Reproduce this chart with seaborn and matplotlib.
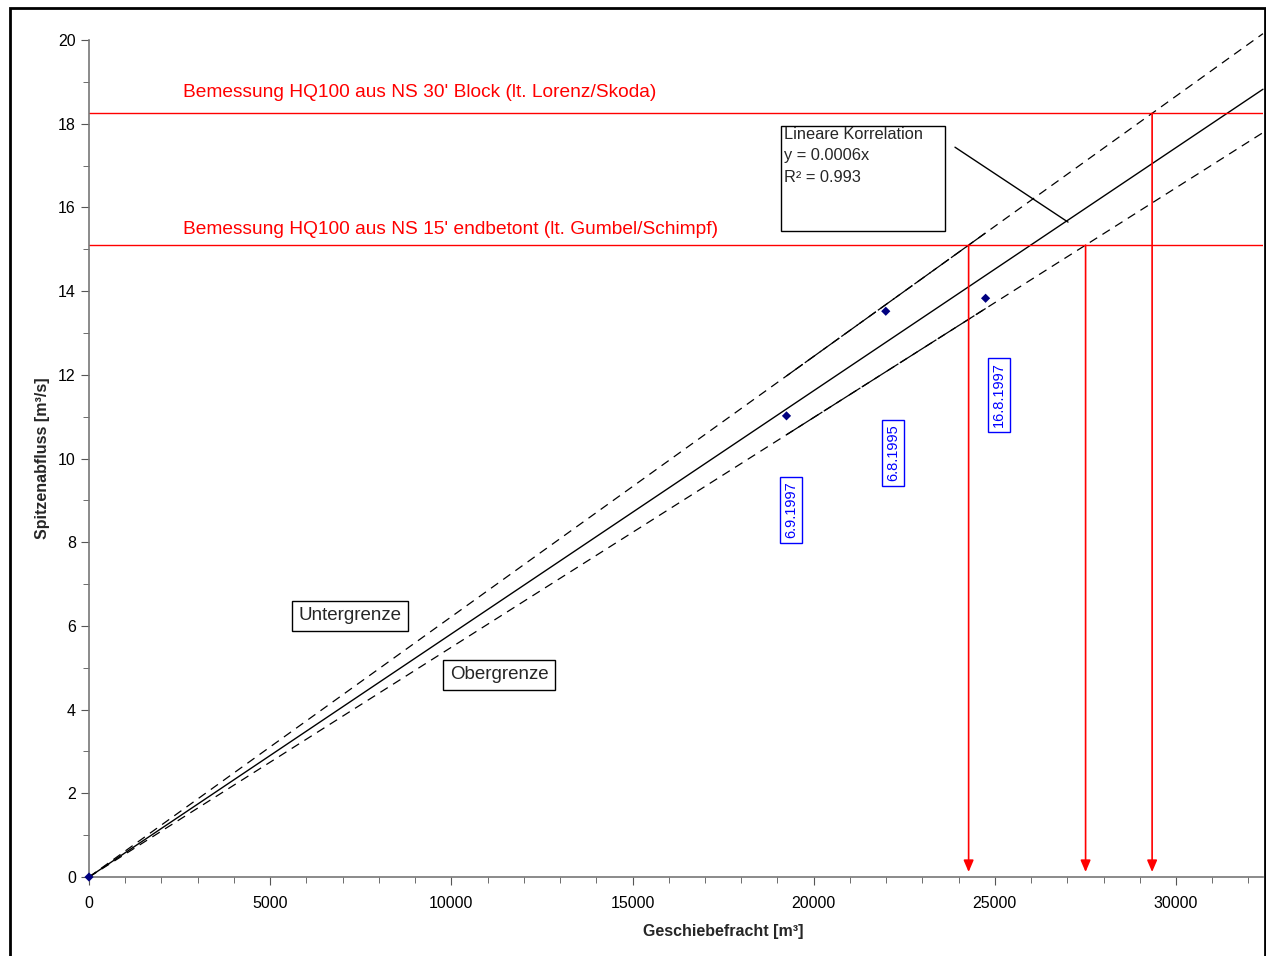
import matplotlib
matplotlib.use("Agg")
import matplotlib.pyplot as plt
from matplotlib.patches import Rectangle
from matplotlib.ticker import MultipleLocator
import numpy as np
import pandas as pd
import seaborn as sns

# ===========
# DATA
# ===========

fracht = [0, 19250, 21990, 24745]          # Geschiebefracht [m3]
abfluss = [0.0, 11.02, 13.52, 13.83]        # Spitzenabfluss [m3/s]
ereignis = ["", "6.9.1997", "6.8.1995", "16.8.1997"]
label_pos = [None, (19375, 8.77), (22190, 10.13), (25115, 11.52)]

slope_trend = 0.000581
slope_unter = 0.000622
slope_ober = 0.000549
x_line = [0, 32400]
x_data_range = [19250, 24745]

hq_30 = 18.25
hq_15 = 15.1
hq_30_text = "Bemessung HQ100 aus NS 30' Block (lt. Lorenz/Skoda)"
hq_15_text = "Bemessung HQ100 aus NS 15' endbetont (lt. Gumbel/Schimpf)"

# ===========
# PLOT
# ===========

sns.set_style("white")
plt.rcParams["font.family"] = ["Liberation Sans", "DejaVu Sans"]

fig = plt.figure(figsize=(12.66, 9.56), dpi=100)
ax = fig.add_axes([0.0703, 0.0826, 0.9273, 0.8755])

lines = pd.DataFrame({
    "x": x_line * 3,
    "y": [slope_trend * v for v in x_line]
    + [slope_unter * v for v in x_line]
    + [slope_ober * v for v in x_line],
    "art": ["trend"] * 2 + ["unter"] * 2 + ["ober"] * 2,
})
sns.lineplot(data=lines[lines.art == "trend"], x="x", y="y", color="black",
             lw=1, ax=ax, clip_on=False)
for art, slope in [("unter", slope_unter), ("ober", slope_ober)]:
    sns.lineplot(data=lines[lines.art == art], x="x", y="y", color="black",
                 lw=0.9, ax=ax, clip_on=False, dashes=False,
                 linestyle=(0, (7, 5)))
    # denser dashes over the range covered by the events
    ax.plot(x_data_range, [slope * v for v in x_data_range], color="black",
            lw=0.9, linestyle=(0, (16, 2)))

# horizontal design lines
ax.axhline(hq_30, color="red", lw=1)
ax.axhline(hq_15, color="red", lw=1)
ax.text(2594, hq_30 + 0.5, hq_30_text, color="red", fontsize=13.8, va="center")
ax.text(2594, hq_15 + 0.38, hq_15_text, color="red", fontsize=13.8, va="center")

# arrows down to x axis
for level, slope in [(hq_15, slope_unter), (hq_15, slope_ober), (hq_30, slope_unter)]:
    xv = level / slope
    ax.annotate("", xy=(xv, 0.12), xytext=(xv, level),
                arrowprops=dict(arrowstyle="-|>,head_length=0.7,head_width=0.3",
                                color="red", lw=1.2, shrinkA=0, shrinkB=0))

# data points
pts = pd.DataFrame({"fracht": fracht, "abfluss": abfluss})
sns.scatterplot(data=pts, x="fracht", y="abfluss", marker="D", color="#000080",
                s=22, edgecolor="none", ax=ax, zorder=5, clip_on=False)

for name, pos in zip(ereignis, label_pos):
    if pos is None:
        continue
    ax.text(pos[0], pos[1], name, rotation=90, color="blue", fontsize=10.5,
            ha="center", va="center",
            bbox=dict(boxstyle="square,pad=0.3", fc="white", ec="blue", lw=1))

# trendline label box
ax.add_patch(Rectangle((19100, 15.44), 4525, 2.51, fill=False, ec="black", lw=1))
ax.text(19180, 17.93, "Lineare Korrelation\ny = 0.0006x\nR² = 0.993",
        fontsize=11.8, va="top", ha="left", linespacing=1.55)
ax.plot([23900, 27020], [17.44, 15.65], color="black", lw=1)

ax.text(7200, 6.24, "Untergrenze", fontsize=13.5, ha="center", va="center",
        bbox=dict(boxstyle="square,pad=0.35", fc="white", ec="black", lw=1))
ax.text(11315, 4.83, "Obergrenze", fontsize=13.5, ha="center", va="center",
        bbox=dict(boxstyle="square,pad=0.35", fc="white", ec="black", lw=1))

# axes
ax.set_xlim(0, 32400)
ax.set_ylim(0, 20)
ax.xaxis.set_major_locator(MultipleLocator(5000))
ax.xaxis.set_minor_locator(MultipleLocator(1000))
ax.yaxis.set_major_locator(MultipleLocator(2))
ax.yaxis.set_minor_locator(MultipleLocator(1))
ax.tick_params(which="both", direction="out", colors="black", labelsize=11.5,
               left=True, bottom=True)
ax.tick_params(axis="x", which="major", pad=8)
ax.tick_params(which="major", length=6, color="#555555")
ax.tick_params(which="minor", length=4, color="#555555")
for side in ["top", "right"]:
    ax.spines[side].set_visible(False)
for side in ["left", "bottom"]:
    ax.spines[side].set_color("#777777")
    ax.spines[side].set_linewidth(1.2)
ax.set_xlabel("Geschiebefracht [m³]", fontsize=11.5, fontweight="bold", labelpad=8)
ax.xaxis.set_label_coords(0.54, -0.056)
ax.set_ylabel("Spitzenabfluss [m³/s]", fontsize=11.5, fontweight="bold", labelpad=6)

# outer frame
fig.add_artist(Rectangle((0.0079, -0.01), 0.9913, 1.0016, transform=fig.transFigure,
                         fill=False, ec="black", lw=2))

fig.savefig("out.png", dpi=100)
